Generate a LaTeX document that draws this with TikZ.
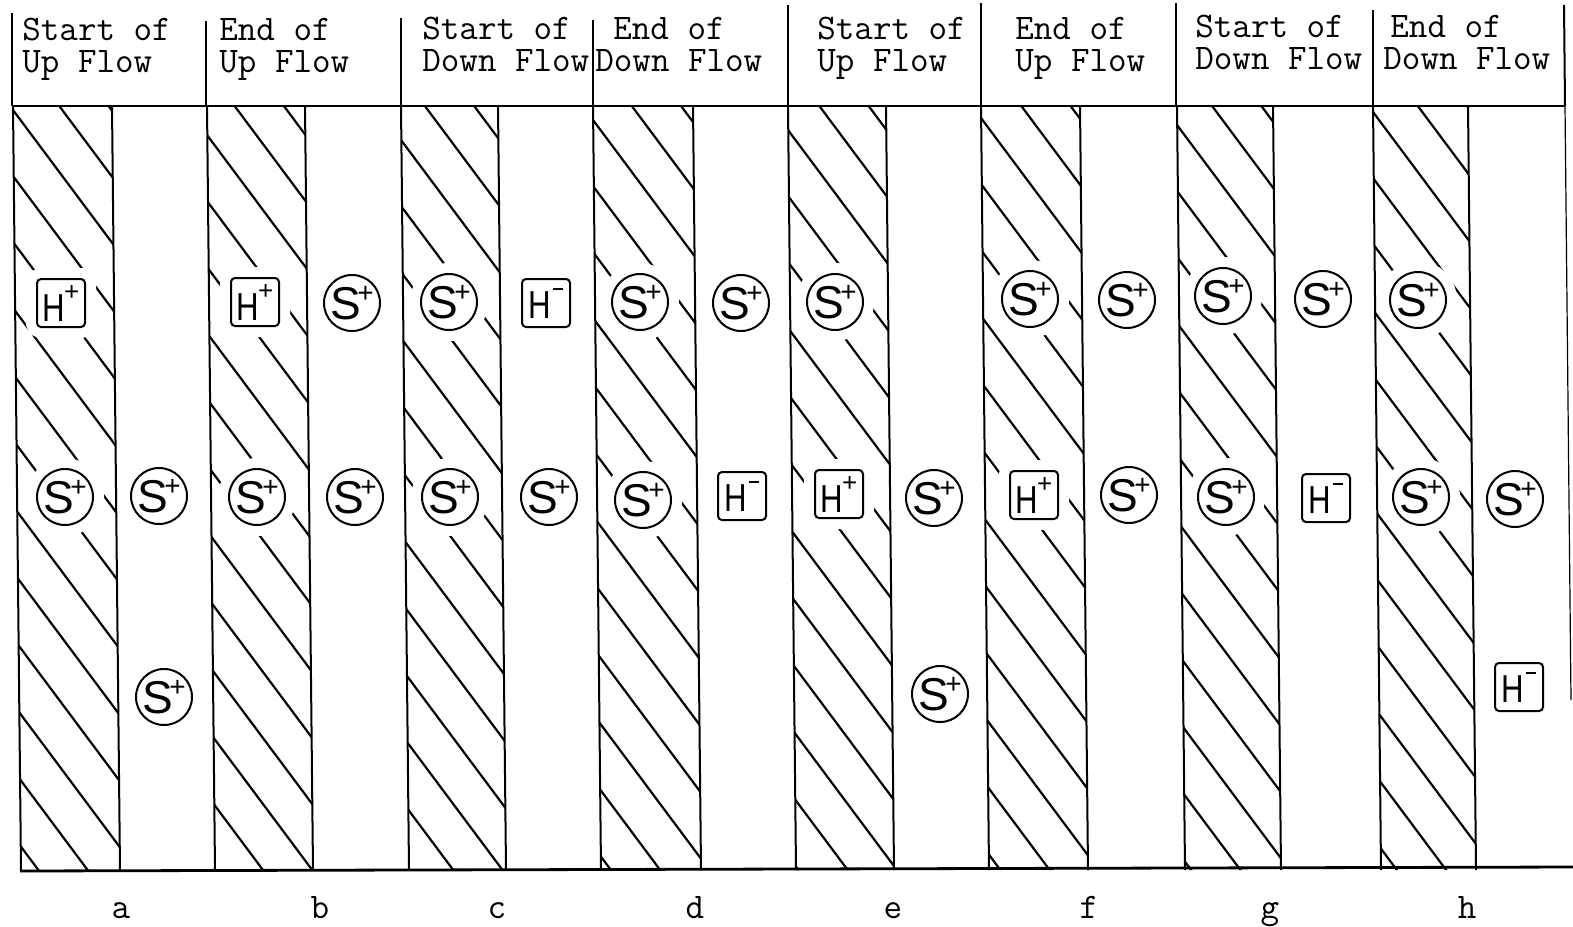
\documentclass[tikz,border=0pt]{standalone}
\usepackage{fontspec}
\usepackage{graphicx}
\newfontfamily\symfont{Liberation Sans}
\newcommand\SymS{{\symfont\fontsize{23pt}{23pt}\selectfont S\kern-1.8pt\raisebox{8.5pt}{\fontsize{14pt}{14pt}\selectfont +}}}
\newcommand\SymHp{{\symfont\fontsize{19.5pt}{20pt}\selectfont \scalebox{0.8}[1]{H}\kern-0.6pt\raisebox{10.5pt}{\fontsize{13pt}{13pt}\selectfont +}}}
\newcommand\SymHm{{\symfont\fontsize{19.5pt}{20pt}\selectfont \scalebox{0.8}[1]{H}\kern1.2pt\rule[14pt]{5pt}{1.2pt}}}
\tikzset{
  frame/.style={line width=1pt},
  hatchline/.style={line width=1.1pt},
  halo/.style={preaction={draw=white,line width=11pt}},
  ion/.style={circle,draw,line width=1pt,fill=white,minimum size=28pt,inner sep=0pt,halo},
  hbox/.style={rectangle,rounded corners=2pt,draw,line width=1pt,fill=white,minimum size=24pt,inner sep=0pt,halo},
  hdr/.style={anchor=north west,inner sep=0pt,align=left,font={\fontsize{18pt}{16pt}\selectfont\ttfamily}},
  lbl/.style={anchor=base,inner sep=0pt,font={\fontsize{18pt}{20pt}\selectfont\ttfamily}}
}
\begin{document}
\begin{tikzpicture}[x=0.5pt,y=-0.5pt]
\useasboundingbox[fill=white] (0,0) rectangle (1573,926);
% hatching
\foreach \xl/\xr/\p in {13/112/110, 207/305/135, 401/498/140, 593/693/120, 788/886/130, 981/1080/118, 1177/1273/125, 1373/1468/112}{
  \begin{scope}
    \clip (\xl,106) -- (\xr,106) -- ({\xr+8},870) -- ({\xl+8},870) -- cycle;
    \foreach \k in {-4,...,12}{
      \draw[hatchline] ({\xl-10},{\p+\k*66-13.4}) -- ++(140,187.6);
    }
  \end{scope}
}
% symbols
% a
\node[hbox] (a1) at (61,303) {\SymHp};
\node[ion] (a2) at (65,497) {\SymS};
\node[ion] (a3) at (159,496) {\SymS};
\node[ion] (a4) at (164,697) {\SymS};
% b
\node[hbox] (b1) at (255,302) {\SymHp};
\node[ion] (b2) at (352,303) {\SymS};
\node[ion] (b3) at (257,497) {\SymS};
\node[ion] (b4) at (355,497) {\SymS};
% c
\node[ion] (c1) at (449,302) {\SymS};
\node[hbox] (c2) at (546,303) {\SymHm};
\node[ion] (c3) at (450,497) {\SymS};
\node[ion] (c4) at (549,497) {\SymS};
% d
\node[ion] (d1) at (640,302) {\SymS};
\node[ion] (d2) at (741,303) {\SymS};
\node[ion] (d3) at (643,500) {\SymS};
\node[hbox] (d4) at (742,496) {\SymHm};
% e
\node[ion] (e1) at (835,302) {\SymS};
\node[hbox] (e2) at (839,494) {\SymHp};
\node[ion] (e3) at (934,498) {\SymS};
\node[ion] (e4) at (940,694) {\SymS};
% f
\node[ion] (f1) at (1030,299) {\SymS};
\node[ion] (f2) at (1127,300) {\SymS};
\node[hbox] (f3) at (1034,495) {\SymHp};
\node[ion] (f4) at (1129,495) {\SymS};
% g
\node[ion] (g1) at (1223,296) {\SymS};
\node[ion] (g2) at (1323,299) {\SymS};
\node[ion] (g3) at (1226,497) {\SymS};
\node[hbox] (g4) at (1326,498) {\SymHm};
% h
\node[ion] (h1) at (1418,300) {\SymS};
\node[ion] (h2) at (1421,497) {\SymS};
\node[ion] (h3) at (1515,499) {\SymS};
\node[hbox] (h4) at (1519,687) {\SymHm};
% body strip borders
\foreach \x in {13,112,207,305,401,498,593,693,788,886,981,1080,1177,1273,1373,1468}{
  \draw[frame] (\x,106) -- ({\x+8},870);
}
\draw[line width=0.6pt] (1565,106) -- (1571,700);
% header verticals
\draw[frame] (12,13) -- (12,106);
\draw[frame] (206,21) -- (206,106);
\draw[frame] (401,18) -- (401,106);
\draw[frame] (593,20) -- (593,106);
\draw[frame] (788,5) -- (788,106);
\draw[frame] (981,3) -- (981,106);
\draw[frame] (1176,3) -- (1176,106);
\draw[frame] (1373,10) -- (1373,106);
\draw[frame] (1564,5) -- (1565,106);
% horizontal lines
\draw[line width=1.3pt] (12,106) -- (1565,106);
\draw[line width=1.4pt] (20,871) -- (1573,867);
% header texts
\node[hdr] (ha) at (22,18) {Start of\\Up Flow};
\node[hdr] (hb) at (219,18) {End of\\Up Flow};
\node[hdr] (hc) at (422,17) {Start of\\Down Flow};
\node[hdr] (hd) at (595,17) {\hspace*{9pt}End of\\Down Flow};
\node[hdr] (he) at (817,17) {Start of\\Up Flow};
\node[hdr] (hf) at (1015,17) {End of\\Up Flow};
\node[hdr] (hg) at (1195,15) {Start of\\Down Flow};
\node[hdr] (hh) at (1383,15) {\hspace*{3.5pt}End of\\Down Flow};
% bottom labels
\node[lbl] (la) at (121,918) {a};
\node[lbl] (lb) at (320,918) {b};
\node[lbl] (lc) at (497,918) {c};
\node[lbl] (ld) at (695,918) {d};
\node[lbl] (le) at (893,918) {e};
\node[lbl] (lf) at (1089,918) {f};
\node[lbl] (lg) at (1270,918) {g};
\node[lbl] (lh) at (1467,918) {h};
\end{tikzpicture}
\end{document}
